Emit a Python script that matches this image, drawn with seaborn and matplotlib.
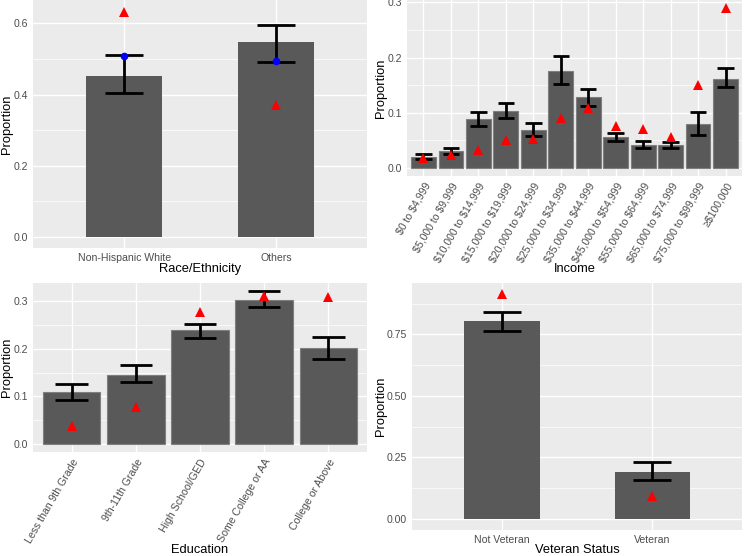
import numpy as np
import pandas as pd
import matplotlib
matplotlib.use("Agg")
import matplotlib.pyplot as plt
import seaborn as sns
from matplotlib.ticker import MultipleLocator

# ---------------- data ----------------
race_cats = ["Non-Hispanic White", "Others"]
race_prop = [0.452, 0.548]
race_lo = [0.403, 0.491]
race_hi = [0.511, 0.597]
race_tri = [0.633, 0.372]
race_dot = [0.508, 0.493]

inc_cats = ["$0 to $4,999", "$5,000 to $9,999", "$10,000 to $14,999", "$15,000 to $19,999",
            "$20,000 to $24,999", "$25,000 to $34,999", "$35,000 to $44,999", "$45,000 to $54,999",
            "$55,000 to $64,999", "$65,000 to $74,999", "$75,000 to $99,999", "\u2265$100,000"]
inc_prop = [0.0205, 0.031, 0.088, 0.104, 0.068, 0.175, 0.128, 0.057, 0.042, 0.041, 0.079, 0.162]
inc_lo = [0.016, 0.026, 0.076, 0.091, 0.058, 0.153, 0.112, 0.049, 0.036, 0.036, 0.059, 0.146]
inc_hi = [0.026, 0.037, 0.101, 0.118, 0.082, 0.203, 0.144, 0.064, 0.049, 0.048, 0.101, 0.181]
inc_tri = [0.019, 0.023, 0.033, 0.051, 0.053, 0.090, 0.109, 0.076, 0.070, 0.057, 0.150, 0.290]

edu_cats = ["Less than 9th Grade", "9th-11th Grade", "High School/GED", "Some College or AA", "College or Above"]
edu_prop = [0.109, 0.145, 0.238, 0.302, 0.201]
edu_lo = [0.093, 0.130, 0.222, 0.286, 0.179]
edu_hi = [0.126, 0.166, 0.252, 0.321, 0.225]
edu_tri = [0.039, 0.077, 0.276, 0.309, 0.307]

vet_cats = ["Not Veteran", "Veteran"]
vet_prop = [0.804, 0.192]
vet_lo = [0.763, 0.157]
vet_hi = [0.842, 0.232]
vet_tri = [0.913, 0.093]

# ---------------- style ----------------
sns.set_theme(style="darkgrid")
plt.rcParams["font.family"] = ["Liberation Sans", "DejaVu Sans"]
BG = "#EBEBEB"
BAR = "#595959"
TICKC = "#4D4D4D"

fig = plt.figure(figsize=(7.44, 5.56), dpi=100)
W, H = 744.0, 556.0


def add_ax(x0, y0, x1, y1):
    ax = fig.add_axes([x0 / W, 1 - y1 / H, (x1 - x0) / W, (y1 - y0) / H])
    ax._px = (x0, y0, x1, y1)
    return ax


def panel(ax, cats, prop, lo, hi, tri, dot, bar_w, cap_w, major, minor, ylim, fmt,
          xlabel, ylab_x, xlab_y, rot=0, edge=None):
    n = len(cats)
    df = pd.DataFrame({"cat": cats, "prop": prop})
    sns.barplot(data=df, x="cat", y="prop", order=cats, color=BAR, saturation=1,
                width=bar_w, ax=ax, edgecolor=edge if edge else BAR,
                linewidth=0.8 if edge else 0, zorder=2)
    xs = np.arange(n)
    ax.vlines(xs, lo, hi, color="black", lw=2.0, zorder=3)
    ax.hlines(lo, xs - cap_w / 2, xs + cap_w / 2, color="black", lw=2.0, zorder=3)
    ax.hlines(hi, xs - cap_w / 2, xs + cap_w / 2, color="black", lw=2.0, zorder=3)
    ax.plot(xs, tri, linestyle="none", marker="^", color="#FF0000", markersize=7.5,
            markeredgewidth=0, zorder=4)
    if dot is not None:
        ax.plot(xs, dot, linestyle="none", marker="o", color="#0000FF", markersize=5.5,
                markeredgewidth=0, zorder=5)
    ax.set_facecolor(BG)
    ax.set_xlim(-0.6, n - 0.4)
    ax.set_ylim(*ylim)
    ticks = [t for t in np.arange(0, ylim[1] + 1e-9, major)]
    ax.set_yticks(ticks)
    ax.set_yticklabels([fmt.format(t) for t in ticks])
    ax.yaxis.set_minor_locator(MultipleLocator(minor))
    ax.grid(True, which="major", color="white", lw=1.0, zorder=0)
    ax.grid(True, which="minor", axis="y", color="white", lw=0.5, zorder=0)
    ax.set_axisbelow(True)
    for s in ax.spines.values():
        s.set_visible(False)
    ax.tick_params(axis="both", which="major", length=2.2, width=0.8, color="#333333",
                   labelcolor=TICKC, labelsize=7.6, pad=1.5)
    ax.tick_params(axis="y", which="minor", length=0)
    shown = [c.replace("$", r"\$") for c in cats]
    ax.set_xticks(xs)
    if rot:
        ax.set_xticklabels(shown, rotation=rot, ha="right", rotation_mode="anchor")
    else:
        ax.set_xticklabels(shown)
    ax.set_xlabel(xlabel, fontsize=9.3, color="black")
    ax.set_ylabel("Proportion", fontsize=9.3, color="black")
    x0, y0, x1, y1 = ax._px
    ax.yaxis.set_label_coords((ylab_x - x0) / (x1 - x0), 0.5)
    ax.yaxis.label.set_ha("center")
    ax.yaxis.label.set_va("center")
    ax.xaxis.set_label_coords(0.5, (y1 - xlab_y) / (y1 - y0))
    ax.xaxis.label.set_va("center")


ax1 = add_ax(33, 0, 367, 248)
panel(ax1, race_cats, race_prop, race_lo, race_hi, race_tri, race_dot, 0.5, 0.25,
      0.2, 0.1, (-0.0317, 0.666), "{:.1f}", "Race/Ethnicity", 7, 269)

ax2 = add_ax(407, 0, 742, 176)
panel(ax2, inc_cats, inc_prop, inc_lo, inc_hi, inc_tri, None, 0.9, 0.6,
      0.1, 0.05, (-0.0145, 0.3045), "{:.1f}", "Income", 381.5, 269, rot=60, edge="#7F7F7F")

ax3 = add_ax(33, 283, 367, 452)
panel(ax3, edu_cats, edu_prop, edu_lo, edu_hi, edu_tri, None, 0.9, 0.5,
      0.1, 0.05, (-0.016, 0.337), "{:.1f}", "Education", 7, 550, rot=60, edge="#7F7F7F")

ax4 = add_ax(412, 283, 742, 530)
panel(ax4, vet_cats, vet_prop, vet_lo, vet_hi, vet_tri, None, 0.5, 0.25,
      0.25, 0.125, (-0.0457, 0.959), "{:.2f}", "Veteran Status", 381.5, 550)

fig.savefig("out.png", dpi=100)
